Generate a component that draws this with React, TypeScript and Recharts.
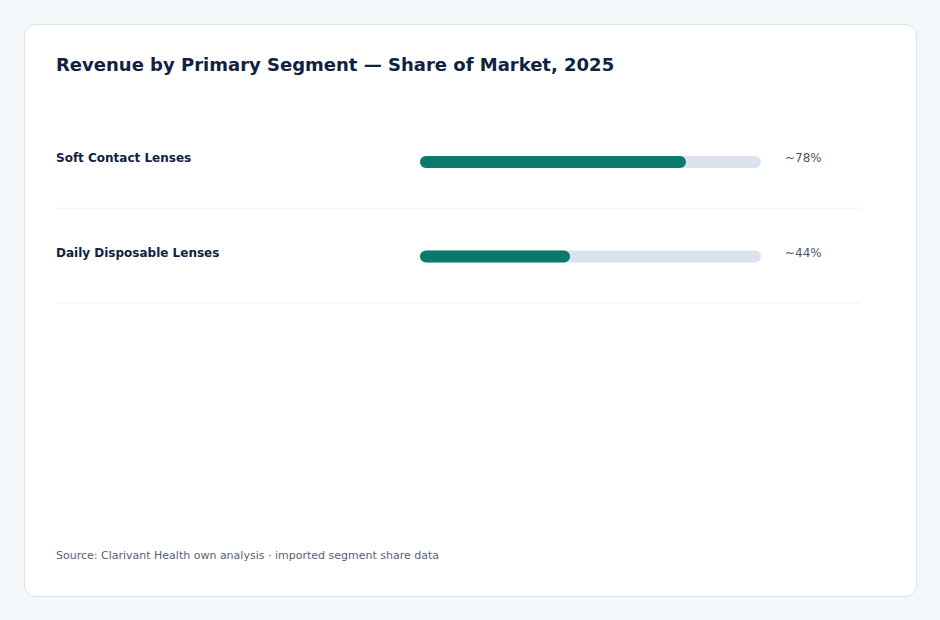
import React from 'react';
import { BarChart, Bar, XAxis, YAxis, LabelList } from 'recharts';

const segments = ['Soft Contact Lenses', 'Daily Disposable Lenses'];
const shares = [78, 44];
const shareLabels = ['~78%', '~44%'];

const data = segments.map((name, i) => ({ name, share: shares[i], label: shareLabels[i] }));

const INK = '#10223f';
const TEAL = '#0b7a6c';
const TRACK = '#dae3ee';
const RULE = '#edf0f4';

const SegmentTick = (props: any) => {
  const { y, payload } = props;
  return (
    <g>
      <text
        x={0}
        y={y - 4}
        dominantBaseline="central"
        fontSize={12}
        fontWeight={700}
        fill={INK}
        fontFamily="DejaVu Sans, sans-serif"
      >
        {payload.value}
      </text>
      <line x1={0} x2={805} y1={y + 46} y2={y + 46} stroke={RULE} strokeWidth={1} />
    </g>
  );
};

const ShareLabel = (props: any) => {
  const { x, y, width, height, index } = props;
  const trackEnd = x + (width * 100) / shares[index];
  return (
    <text
      x={trackEnd + 24}
      y={y + height / 2 - 4}
      dominantBaseline="central"
      fontSize={12}
      fill="#4d5565"
      fontFamily="DejaVu Sans, sans-serif"
    >
      {shareLabels[index]}
    </text>
  );
};

export default function App() {
  return (
    <div
      style={{
        position: 'absolute',
        left: 0,
        top: 0,
        width: 940,
        height: 620,
        background: '#f4f7fa',
        fontFamily: 'DejaVu Sans, sans-serif',
      }}
    >
      <div
        style={{
          position: 'absolute',
          left: 24,
          top: 24,
          width: 891,
          height: 571,
          background: '#ffffff',
          border: '1px solid #dde3ea',
          borderRadius: 12,
        }}
      />
      <div
        style={{
          position: 'absolute',
          left: 56,
          top: 54,
          fontSize: 18,
          fontWeight: 700,
          color: INK,
          whiteSpace: 'nowrap',
          lineHeight: '22px',
        }}
      >
        Revenue by Primary Segment — Share of Market, 2025
      </div>
      <div style={{ position: 'absolute', left: 56, top: 114 }}>
        <BarChart
          width={805}
          height={190}
          data={data}
          layout="vertical"
          margin={{ top: 1, right: 100, bottom: 0, left: 0 }}
        >
          <XAxis type="number" domain={[0, 100]} hide />
          <YAxis
            type="category"
            dataKey="name"
            width={364}
            axisLine={false}
            tickLine={false}
            tick={<SegmentTick />}
          />
          <Bar
            dataKey="share"
            fill={TEAL}
            barSize={12}
            radius={6}
            background={{ fill: TRACK, radius: 6 }}
            isAnimationActive={false}
          >
            <LabelList dataKey="label" content={<ShareLabel />} />
          </Bar>
        </BarChart>
      </div>
      <div
        style={{
          position: 'absolute',
          left: 56,
          top: 549,
          fontSize: 11,
          color: '#566174',
          whiteSpace: 'nowrap',
        }}
      >
        Source: Clarivant Health own analysis · imported segment share data
      </div>
    </div>
  );
}
